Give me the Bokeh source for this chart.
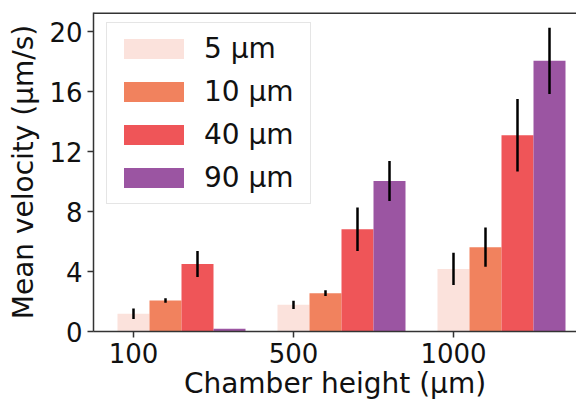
import numpy as np
from bokeh.plotting import figure
from bokeh.models import ColumnDataSource, FixedTicker, Range1d, Span
from bokeh.embed import file_html
from bokeh.resources import INLINE

categories = ["100", "500", "1000"]
series = ["5 µm", "10 µm", "40 µm", "90 µm"]
colors = ["#fbe2dc", "#f1825e", "#ef5558", "#9b55a2"]
v5 = [1.18, 1.78, 4.18]
e5 = [0.35, 0.28, 1.08]
v10 = [2.07, 2.56, 5.63]
e10 = [0.15, 0.19, 1.31]
v40 = [4.51, 6.83, 13.11]
e40 = [0.87, 1.45, 2.42]
v90 = [0.18, 10.05, 18.07]
e90 = [0.0, 1.33, 2.22]
y_ticks = [0, 4, 8, 12, 16, 20]

values = [v5, v10, v40, v90]
errors = [e5, e10, e40, e90]
bar_w = 0.2
y_max = 21.3

FONT = "DejaVu Sans"
TXT = "#111111"
SPINE = "#333333"

p = figure(width=576, height=402, output_backend="svg", toolbar_location=None,
           x_range=Range1d(-0.25, 2.76875), y_range=Range1d(0, y_max),
           min_border_left=93, min_border_top=12, min_border_bottom=70, min_border_right=0)
p.outline_line_color = None
p.grid.visible = False
p.background_fill_color = "white"
p.border_fill_color = "white"

base = np.arange(len(categories))
for i, (name, vals, errs, col) in enumerate(zip(series, values, errors, colors)):
    x = base + i * bar_w
    v = np.array(vals)
    e = np.array(errs)
    src = ColumnDataSource(dict(x=x, top=v, lo=v - e, hi=v + e))
    p.vbar(x="x", top="top", width=bar_w, source=src, fill_color=col,
           line_color=None, legend_label=name)
    p.segment(x0="x", x1="x", y0="lo", y1="hi", source=src,
              line_color="black", line_width=2.5)

for ax in (p.xaxis[0], p.yaxis[0]):
    ax.axis_line_color = SPINE
    ax.axis_line_width = 1.5
    ax.major_tick_line_color = SPINE
    ax.major_tick_line_width = 1.5
    ax.major_tick_out = 6
    ax.major_tick_in = 0
    ax.minor_tick_line_color = None
    ax.major_label_text_font = FONT
    ax.major_label_text_font_size = "26px"
    ax.major_label_text_color = TXT
    ax.axis_label_text_font = FONT
    ax.axis_label_text_font_size = "28px"
    ax.axis_label_text_font_style = "normal"
    ax.axis_label_text_color = TXT

p.xaxis[0].ticker = FixedTicker(ticks=list(base))
p.xaxis[0].major_label_overrides = {int(i): c for i, c in enumerate(categories)}
p.xaxis[0].axis_label = "Chamber height (µm)"
p.xaxis[0].major_label_standoff = 5
p.xaxis[0].axis_label_standoff = 1

p.yaxis[0].ticker = FixedTicker(ticks=y_ticks)
p.yaxis[0].axis_label = "Mean velocity (µm/s)"
p.yaxis[0].major_label_standoff = 5
p.yaxis[0].axis_label_standoff = 6

# top spine
p.add_layout(Span(location=y_max, dimension="width", line_color=SPINE, line_width=3))

lg = p.legend[0]
lg.location = (13, 127)
lg.margin = 0
lg.padding = 9
lg.spacing = 10
lg.glyph_width = 75
lg.glyph_height = 25
lg.label_standoff = 13
lg.label_width = 97
lg.label_text_font = FONT
lg.label_text_font_size = "28px"
lg.label_text_color = TXT
lg.border_line_color = "#cccccc"
lg.border_line_width = 1.5
lg.background_fill_alpha = 0.85

open("out.html", "w").write(file_html(p, INLINE))
